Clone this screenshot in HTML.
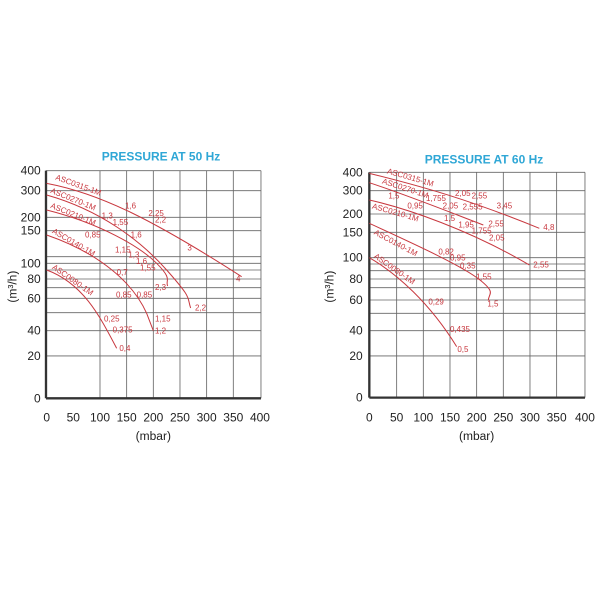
<!DOCTYPE html><html><head><style>body{margin:0;background:#fff}svg{display:block}text{font-family:"Liberation Sans",sans-serif}</style></head><body>
<svg width="603" height="603" viewBox="0 0 603 603">
<!-- LEFT -->
<g transform="translate(0,140) scale(0.3333)">
<g stroke="#666" stroke-width="2.5" fill="none">
<path d="M138 92H783M138 152H783M138 232H783M138 272H783M138 350H783M138 370H783M138 390H783M138 417H783M138 443H783M138 475H783M138 518H783M138 572H783M138 648H783"/>
<path d="M300 92V775M380 92V775M460 92V775M540 92V775M620 92V775M700 92V775M783 92V775"/>
<path d="M138 92V775M138 775H783" stroke="#333" stroke-width="7"/>
</g>
<text x="483" y="62" font-size="36" font-weight="bold" fill="#2fa7d6" text-anchor="middle">PRESSURE AT 50 Hz</text>
<g font-size="36" fill="#222" text-anchor="end">
<text x="122" y="104">400</text><text x="122" y="164">300</text><text x="122" y="244">200</text><text x="122" y="284">150</text><text x="122" y="382">100</text><text x="122" y="429">80</text><text x="122" y="487">60</text><text x="122" y="584">40</text><text x="122" y="660">20</text><text x="122" y="787">0</text>
</g>
<g font-size="36" fill="#222" text-anchor="middle">
<text x="140" y="845">0</text><text x="220" y="845">50</text><text x="300" y="845">100</text><text x="380" y="845">150</text><text x="460" y="845">200</text><text x="540" y="845">250</text><text x="620" y="845">300</text><text x="700" y="845">350</text><text x="780" y="845">400</text>
<text x="460" y="900">(mbar)</text>
<text transform="translate(50,440) rotate(-90)">(m³/h)</text>
</g>
<g stroke="#c8383f" stroke-width="3" fill="none">
<path d="M140 130C300 160 460 240 725 410"/>
<path d="M140 165C300 210 420 300 500 390S560 470 572 504"/>
<path d="M140 210C300 250 420 320 470 370S495 420 503 438"/>
<path d="M140 285C300 340 400 430 440 520L460 572"/>
<path d="M140 390C250 430 300 530 350 625"/>
</g>
<g font-size="24" fill="#c8383f">
<text transform="translate(165,118) rotate(20)">ASC0315-1M</text>
<text transform="translate(150,158) rotate(22)">ASC0270-1M</text>
<text transform="translate(150,203) rotate(22)">ASC0210-1M</text>
<text transform="translate(155,278) rotate(30)">ASC0140-1M</text>
<text transform="translate(155,385) rotate(35)">ASC0080-1M</text>
<text x="375" y="205">1,6</text><text x="445" y="228">2,25</text><text x="465" y="248">2,2</text><text x="562" y="332">3</text><text x="708" y="425">4</text>
<text x="305" y="235">1,3</text><text x="338" y="255">1,55</text><text x="255" y="292">0,85</text><text x="392" y="292">1,6</text>
<text x="345" y="337">1,15</text><text x="385" y="352">1,3</text><text x="408" y="372">1,6</text><text x="420" y="392">1,55</text>
<text x="350" y="405">0,7</text><text x="465" y="450">2,3</text><text x="585" y="512">2,2</text>
<text x="348" y="472">0,85</text><text x="410" y="472">0,85</text>
<text x="312" y="544">0,25</text><text x="465" y="545">1,15</text><text x="338" y="578">0,375</text><text x="465" y="580">1,2</text><text x="358" y="633">0,4</text>
</g>
</g>
<!-- RIGHT -->
<g transform="translate(320,140) scale(0.3333)">
<g stroke="#666" stroke-width="2.5" fill="none">
<path d="M148 97H795M148 152H795M148 222H795M148 277H795M148 353H795M148 372H795M148 392H795M148 417H795M148 443H795M148 480H795M148 520H795M148 572H795M148 648H795"/>
<path d="M230 97V773M310 97V773M390 97V773M470 97V773M550 97V773M630 97V773M710 97V773M795 97V773"/>
<path d="M148 97V773M148 773H795" stroke="#333" stroke-width="7"/>
</g>
<text x="492" y="70" font-size="36" font-weight="bold" fill="#2fa7d6" text-anchor="middle">PRESSURE AT 60 Hz</text>
<g font-size="36" fill="#222" text-anchor="end">
<text x="128" y="109">400</text><text x="128" y="164">300</text><text x="128" y="234">200</text><text x="128" y="289">150</text><text x="128" y="365">100</text><text x="128" y="429">80</text><text x="128" y="492">60</text><text x="128" y="584">40</text><text x="128" y="660">20</text><text x="128" y="785">0</text>
</g>
<g font-size="36" fill="#222" text-anchor="middle">
<text x="148" y="845">0</text><text x="230" y="845">50</text><text x="310" y="845">100</text><text x="390" y="845">150</text><text x="470" y="845">200</text><text x="550" y="845">250</text><text x="630" y="845">300</text><text x="710" y="845">350</text><text x="795" y="845">400</text>
<text x="470" y="900">(mbar)</text>
<text transform="translate(40,440) rotate(-90)">(m³/h)</text>
</g>
<g stroke="#c8383f" stroke-width="3" fill="none">
<path d="M148 100C310 140 450 180 658 265"/>
<path d="M148 128C260 165 360 205 490 255"/>
<path d="M148 180C260 205 450 270 628 375"/>
<path d="M148 250C300 320 430 380 480 420S505 460 505 482"/>
<path d="M148 353C230 400 330 490 410 620"/>
</g>
<g font-size="24" fill="#c8383f">
<text transform="translate(200,100) rotate(16)">ASC0315-1M</text>
<text transform="translate(185,130) rotate(18)">ASC0270-1M</text>
<text transform="translate(155,205) rotate(16)">ASC0210-1M</text>
<text transform="translate(160,282) rotate(28)">ASC0140-1M</text>
<text transform="translate(160,352) rotate(35)">ASC0080-1M</text>
<text x="405" y="168">2,05</text><text x="455" y="175">2,55</text><text x="530" y="205">3,45</text><text x="670" y="270">4,8</text>
<text x="205" y="175">1,5</text><text x="318" y="183">1,755</text><text x="368" y="205">2,05</text><text x="428" y="208">2,555</text><text x="505" y="260">2,55</text>
<text x="262" y="205">0,95</text><text x="372" y="243">1,5</text><text x="415" y="262">1,95</text><text x="455" y="280">1,755</text><text x="507" y="302">2,05</text><text x="640" y="382">2,55</text>
<text x="355" y="343">0,82</text><text x="390" y="362">0,95</text><text x="420" y="385">0,35</text><text x="468" y="418">1,55</text><text x="502" y="500">1,5</text>
<text x="325" y="494">0,29</text><text x="390" y="576">0,435</text><text x="412" y="636">0,5</text>
</g>
</g>
</svg>
</body></html>
